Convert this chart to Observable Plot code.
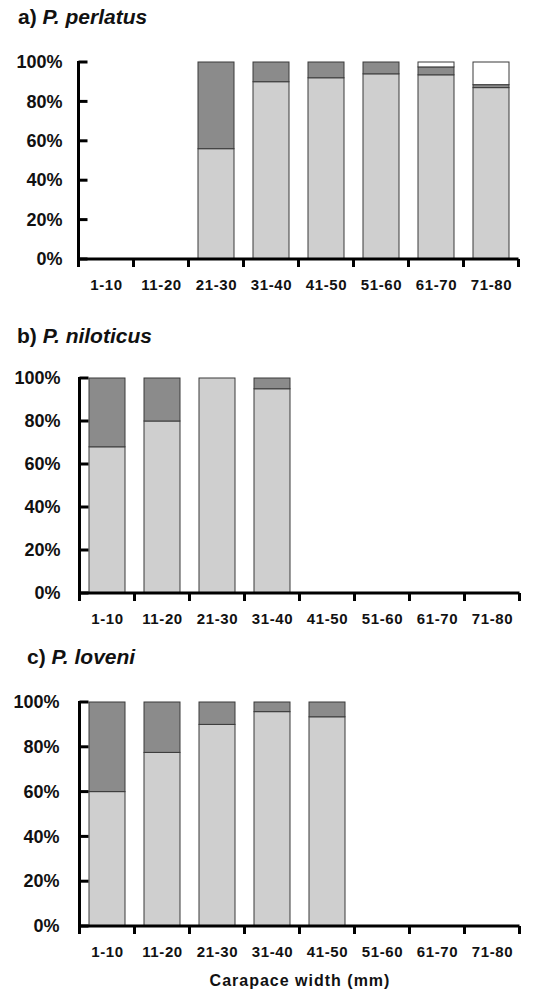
<!DOCTYPE html>
<html>
<head>
<meta charset="utf-8">
<script src="https://cdn.jsdelivr.net/npm/d3@7"></script>
<script src="https://cdn.jsdelivr.net/npm/@observablehq/plot@0.6"></script>
<style>
  html, body { margin: 0; padding: 0; background: #fff; }
  body { width: 547px; height: 993px; position: relative; font-family: "Liberation Sans", Arial, sans-serif; overflow: hidden; }
  .title { position: absolute; font-size: 21px; font-weight: bold; line-height: 24px; color: #111; white-space: nowrap; }
  .panel { position: absolute; left: 0; }
  .caption { position: absolute; left: 0; width: 600px; text-align: center; font-size: 16px; font-weight: bold; letter-spacing: 1px; color: #111; }
  svg [aria-label="x-axis tick label"] text { letter-spacing: 0.6px; }
</style>
</head>
<body>
<div class="title" style="left:18px; top:5px;">a) <i>P. perlatus</i></div>
<div class="panel" id="pa" style="top:35px;"></div>
<div class="title" style="left:17px; top:324px;">b) <i>P. niloticus</i></div>
<div class="panel" id="pb" style="top:350px;"></div>
<div class="title" style="left:27px; top:645px;">c) <i>P. loveni</i></div>
<div class="panel" id="pc" style="top:675px;"></div>
<div class="caption" style="top:972px;">Carapace width (mm)</div>
<script>
// Size classes (carapace width, mm)
const categories = ["1-10", "11-20", "21-30", "31-40", "41-50", "51-60", "61-70", "71-80"];
// Stacked segments, bottom to top
const stages = ["stage 1", "stage 2", "stage 3"];
const stageColors = ["#cfcfcf", "#8b8b8b", "#ffffff"];
const yTicks = [0, 20, 40, 60, 80, 100];

// a) P. perlatus (percent)
const perlatusS1 = [null, null, 56, 90, 92, 94, 93.5, 87];
const perlatusS2 = [null, null, 44, 10, 8, 6, 4, 1.5];
const perlatusS3 = [null, null, 0, 0, 0, 0, 2.5, 11.5];
// b) P. niloticus
const niloticusS1 = [68, 80, 100, 95, null, null, null, null];
const niloticusS2 = [32, 20, 0, 5, null, null, null, null];
const niloticusS3 = [0, 0, 0, 0, null, null, null, null];
// c) P. loveni
const loveniS1 = [60, 77.5, 90, 95.7, 93.4, null, null, null];
const loveniS2 = [40, 22.5, 10, 4.3, 6.6, null, null, null];
const loveniS3 = [0, 0, 0, 0, 0, null, null, null];

function rows(s1, s2, s3) {
  const out = [];
  categories.forEach((c, i) => {
    [s1, s2, s3].forEach((s, j) => {
      if (s[i] != null && s[i] > 0) out.push({cat: c, stage: stages[j], value: s[i]});
    });
  });
  return out;
}

function axisDecor(index, scales, values, dims) {
  const x = scales.x, y = scales.y;
  const step = x.step(), bw = x.bandwidth();
  const pad = (step - bw) / 2;
  const x0 = x(categories[0]) - pad;
  const x1 = x(categories[categories.length - 1]) + bw + pad;
  const g = d3.create("svg:g").attr("stroke", "#000").attr("stroke-width", 3).attr("fill", "none");
  g.append("line").attr("x1", x0).attr("x2", x0).attr("y1", y(0) + 1.5).attr("y2", y(100) - 1);
  g.append("line").attr("x1", x0 - 1.5).attr("x2", x1).attr("y1", y(0)).attr("y2", y(0));
  for (let i = 0; i <= categories.length; i++) {
    const bx = x0 + i * step;
    g.append("line").attr("x1", bx).attr("x2", bx).attr("y1", y(0)).attr("y2", y(0) + 8);
  }
  for (const t of yTicks) {
    g.append("line").attr("x1", x0).attr("x2", x0 + 9).attr("y1", y(t)).attr("y2", y(t));
  }
  return g.node();
}

function panel(data, {height, marginLeft, marginTop, marginBottom, yPad}) {
  return Plot.plot({
    width: 547,
    height,
    marginLeft,
    marginRight: 25,
    marginTop,
    marginBottom,
    style: {fontFamily: "'Liberation Sans', Arial, sans-serif", color: "#111", background: "#fff", overflow: "visible"},
    x: {domain: categories, paddingInner: 0.34, paddingOuter: 0.17, label: null},
    y: {domain: [0, 100], label: null},
    color: {domain: stages, range: stageColors},
    marks: [
      Plot.barY(data, {x: "cat", y: "value", fill: "stage", stroke: "#3a3a3a", strokeWidth: 1, order: stages}),
      axisDecor,
      Plot.axisY(yTicks, {tickSize: 0, tickPadding: yPad, tickFormat: d => d + "%", fontSize: 18, fontWeight: "bold", label: null}),
      Plot.axisX({tickSize: 0, tickPadding: 20, fontSize: 15, fontWeight: "bold", label: null})
    ]
  });
}

document.getElementById("pa").append(panel(rows(perlatusS1, perlatusS2, perlatusS3), {height: 264, marginLeft: 75, marginTop: 27, marginBottom: 40, yPad: 13}));
document.getElementById("pb").append(panel(rows(niloticusS1, niloticusS2, niloticusS3), {height: 283, marginLeft: 78, marginTop: 28, marginBottom: 40, yPad: 18}));
document.getElementById("pc").append(panel(rows(loveniS1, loveniS2, loveniS3), {height: 291, marginLeft: 78, marginTop: 27, marginBottom: 40, yPad: 19}));
</script>
</body>
</html>
